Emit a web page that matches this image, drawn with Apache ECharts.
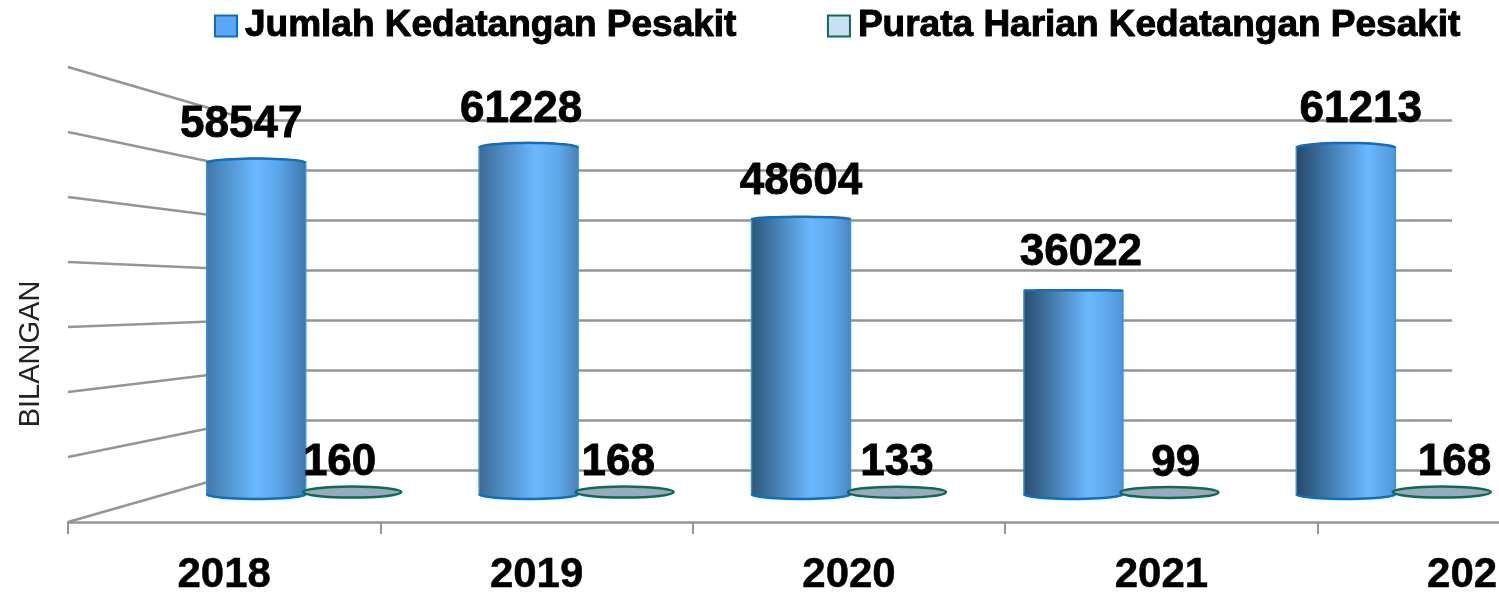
<!DOCTYPE html>
<html>
<head>
<meta charset="utf-8">
<style>
  html, body { margin: 0; padding: 0; background: #fff; overflow: hidden; }
  #chart { width: 1499px; height: 593px; }
</style>
<script src="https://cdn.jsdelivr.net/npm/echarts@6/dist/echarts.min.js"></script>
</head>
<body>
<div id="chart"></div>
<script>
const years = ['2018', '2019', '2020', '2021', '2022']
const kedatangan = [58547, 61228, 48604, 36022, 61213]
const purataHarian = [160, 168, 133, 99, 168]
const wallTicks = [0, 10000, 20000, 30000, 40000, 50000, 60000, 70000]

// the picture is a 3d column chart, so the bars get a darker left side towards the right
const barShades = [
  [[0, '#3f78aa'], [0.5, '#6bb8ff'], [0.72, '#5aa5ea'], [1, '#3f78aa']],
  [[0, '#3a6a96'], [0.57, '#6bb8ff'], [0.8, '#5ea7e8'], [1, '#4a80b5']],
  [[0, '#2b5679'], [0.6, '#6bb8ff'], [0.82, '#5ea7e8'], [1, '#4a85bd']],
  [[0, '#274b6c'], [0.65, '#6bb8ff'], [0.85, '#5ea7e8'], [1, '#4d93d0']],
  [[0, '#264865'], [0.3, '#3f76a8'], [0.72, '#6bb8ff'], [1, '#4e95d6']]
]

const FONT = '"Liberation Sans", Arial, sans-serif'
const barWidth = 99
const pairOffset = 48
const wallTop = 120
const wallBottom = 470
const wallLeft = 250

const chart = echarts.init(document.getElementById('chart'))

// curved edge of the cylinder, from left to right
function arc(x0, x1, y, rise) {
  const pts = []
  for (let a = 0; a <= 24; a++) {
    const t = Math.PI * a / 24
    pts.push([(x0 + x1) / 2 - Math.cos(t) * (x1 - x0) / 2, y - Math.sin(t) * rise])
  }
  return pts
}

function renderBar(params, api) {
  const i = api.value(0)
  const top = api.coord([i, api.value(1)])
  const base = api.coord([i, 0])
  const x = top[0] - pairOffset
  const x0 = x - barWidth / 2
  const x1 = x + barWidth / 2
  const rise = Math.max(0.6, (295 - top[1]) / 30)
  const topEdge = arc(x0, x1, top[1] + 2, rise)
  const bottomEdge = arc(x0, x1, base[1] + 1, -5)
  const fill = new echarts.graphic.LinearGradient(0, 0, 1, 0,
    barShades[i].map(s => ({offset: s[0], color: s[1]})))
  return {
    type: 'group',
    children: [
      {
        type: 'polygon',
        shape: {points: topEdge.concat(bottomEdge.slice().reverse())},
        style: {fill: fill, stroke: '#3d8fd6', lineWidth: 1.5}
      },
      {type: 'polyline', shape: {points: topEdge}, style: {fill: null, stroke: '#0b70c4', lineWidth: 2.5}},
      {type: 'polyline', shape: {points: bottomEdge}, style: {fill: null, stroke: '#0b70c4', lineWidth: 2.5}},
      {
        type: 'text',
        style: {
          text: String(api.value(1)),
          x: x + (i - 2) * 7.5,
          y: top[1] - 36,
          fill: '#000',
          stroke: '#000',
          lineWidth: 0.8,
          font: 'bold 44px ' + FONT,
          textAlign: 'center',
          textVerticalAlign: 'middle'
        }
      }
    ]
  }
}

function renderFlat(params, api) {
  const i = api.value(0)
  const top = api.coord([i, api.value(1)])
  const x = top[0] + pairOffset
  return {
    type: 'group',
    children: [
      {
        type: 'ellipse',
        shape: {cx: x, cy: top[1], rx: 49, ry: 5.5},
        style: {fill: '#98aabf', stroke: '#0f6b50', lineWidth: 2.5}
      },
      {
        type: 'text',
        style: {
          text: String(api.value(1)),
          x: x + (i - 2) * 6.3,
          y: top[1] - 29,
          fill: '#000',
          stroke: '#000',
          lineWidth: 0.8,
          font: 'bold 44px ' + FONT,
          textAlign: 'center',
          textVerticalAlign: 'middle'
        }
      }
    ]
  }
}

// side wall lines run from the left edge back to the matching wall gridline
function renderSideWall(params, api) {
  const v = api.value(1)
  const start = api.coord([0, v])
  const backY = wallBottom - v / 70000 * (wallBottom - wallTop)
  return {
    type: 'line',
    shape: {x1: params.coordSys.x, y1: start[1], x2: wallLeft, y2: backY},
    style: {stroke: '#959595', lineWidth: 2.5}
  }
}

chart.setOption({
  animation: false,
  backgroundColor: '#fff',
  legend: {
    left: 214,
    top: 7,
    padding: 0,
    itemWidth: 22,
    itemHeight: 21,
    itemGap: 90,
    icon: 'rect',
    selectedMode: false,
    textStyle: {
      color: '#000',
      fontFamily: FONT,
      fontWeight: 'bold',
      fontSize: 37,
      padding: [0, 0, 0, 3],
      textBorderColor: '#000',
      textBorderWidth: 1
    },
    data: [
      {name: 'Jumlah Kedatangan Pesakit', itemStyle: {color: '#5aa8f5', borderColor: '#0b70c4', borderWidth: 2}},
      {name: 'Purata Harian Kedatangan Pesakit', itemStyle: {color: '#c7e0f8', borderColor: '#0f6b50', borderWidth: 2}}
    ]
  },
  grid: [
    {left: 68, width: 1562, top: 67, height: 455, outerBoundsMode: 'none'},
    {left: 168, width: 1362, top: 67, height: 455, outerBoundsMode: 'none'},
    {left: wallLeft, width: 1452 - wallLeft, top: wallTop, height: wallBottom - wallTop, outerBoundsMode: 'none'}
  ],
  xAxis: [
    {
      gridIndex: 0,
      type: 'category',
      data: years,
      axisLine: {lineStyle: {color: '#959595', width: 2.5}},
      axisTick: {show: true, length: 12, lineStyle: {color: '#959595', width: 2}},
      axisLabel: {
        interval: 0,
        margin: 32,
        color: '#000',
        fontFamily: FONT,
        fontWeight: 'bold',
        fontSize: 42,
        textBorderColor: '#000',
        textBorderWidth: 0.5
      }
    },
    {gridIndex: 1, type: 'category', data: years, show: false},
    {gridIndex: 2, type: 'value', show: false}
  ],
  yAxis: [
    {gridIndex: 0, type: 'value', min: 0, max: 70000, interval: 10000, show: false},
    {gridIndex: 1, type: 'value', min: -5115, max: 75130, show: false, splitLine: {show: false}},
    {
      gridIndex: 2,
      type: 'value',
      min: 0,
      max: 70000,
      interval: 10000,
      axisLine: {show: false},
      axisTick: {show: false},
      axisLabel: {show: false},
      splitLine: {show: true, lineStyle: {color: '#959595', width: 2.5}}
    }
  ],
  graphic: [
    {
      type: 'text',
      x: 31,
      y: 354,
      rotation: Math.PI / 2,
      style: {
        text: 'BILANGAN',
        fill: '#222',
        font: '29px ' + FONT,
        textAlign: 'center',
        textVerticalAlign: 'middle'
      }
    },
    // the original picture is cropped just after the third digit of the last year
    {type: 'rect', z: 100, shape: {x: 1497, y: 550, width: 2, height: 43}, style: {fill: '#fff'}}
  ],
  series: [
    {
      type: 'custom',
      name: 'dinding',
      xAxisIndex: 0,
      yAxisIndex: 0,
      clip: false,
      silent: true,
      z: 1,
      renderItem: renderSideWall,
      data: wallTicks.map(v => [0, v])
    },
    {
      type: 'custom',
      name: 'Jumlah Kedatangan Pesakit',
      xAxisIndex: 1,
      yAxisIndex: 1,
      clip: false,
      z: 3,
      renderItem: renderBar,
      encode: {x: 0, y: 1},
      data: kedatangan.map((v, i) => [i, v])
    },
    {
      type: 'custom',
      name: 'Purata Harian Kedatangan Pesakit',
      xAxisIndex: 1,
      yAxisIndex: 1,
      clip: false,
      z: 4,
      renderItem: renderFlat,
      encode: {x: 0, y: 1},
      data: purataHarian.map((v, i) => [i, v])
    }
  ]
})
</script>
</body>
</html>
